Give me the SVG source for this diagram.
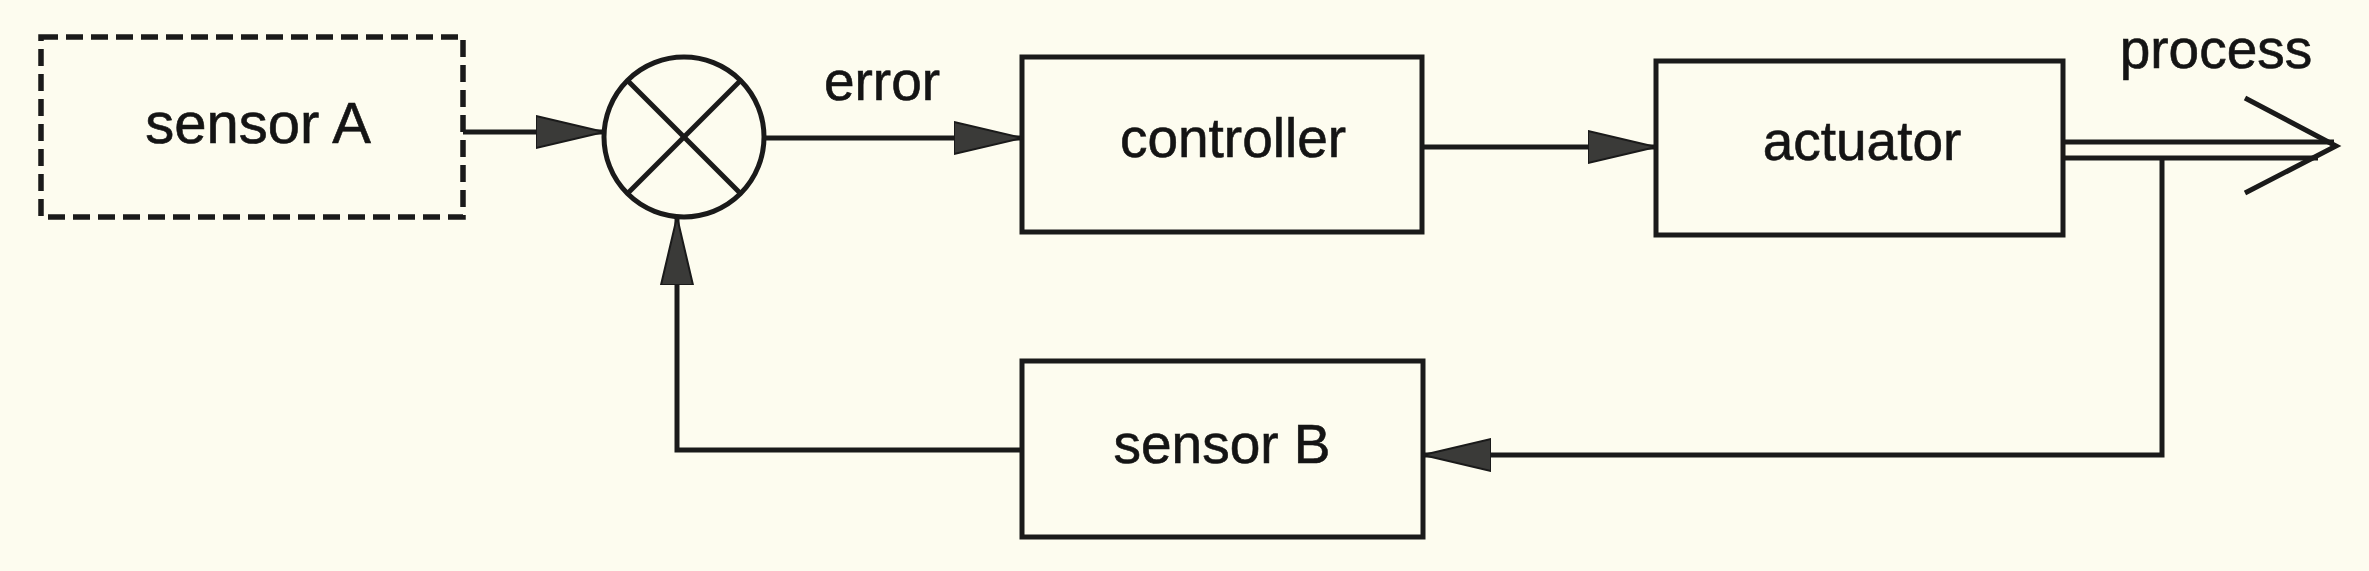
<svg xmlns="http://www.w3.org/2000/svg" width="2369" height="571" viewBox="0 0 2369 571">
<defs>
<marker id="ah" markerUnits="userSpaceOnUse" markerWidth="70" markerHeight="34" refX="68" refY="17" orient="auto">
<path d="M0,1 L68,17 L0,33 Z" fill="#3a3a38" stroke="#1a1a1a" stroke-width="2"/>
</marker>
</defs>
<style>
.box{fill:none;stroke:#1a1a1a;stroke-width:5}
.dash{fill:none;stroke:#1a1a1a;stroke-width:5.5;stroke-dasharray:17 8}
.ln{fill:none;stroke:#1a1a1a;stroke-width:5}
.lbl{font-family:"Liberation Sans",Arial,sans-serif;font-size:55px;fill:#141414;stroke:#141414;stroke-width:0.6}
</style>
<rect width="2369" height="571" fill="#fdfcef"/>
<g id="sensorA">
<rect class="dash" x="41" y="37" width="422" height="180"/>
<text class="lbl" x="258" y="143" text-anchor="middle" style="font-size:58px">sensor A</text>
</g>
<g id="comparator">
<circle class="box" cx="684" cy="137" r="80"/>
<line class="box" x1="627" y1="80" x2="741" y2="194"/>
<line class="box" x1="741" y1="80" x2="627" y2="194"/>
</g>
<g id="controller">
<rect class="box" x="1022" y="57" width="400" height="175"/>
<text class="lbl" x="1233" y="157" text-anchor="middle">controller</text>
</g>
<g id="actuator">
<rect class="box" x="1656" y="61" width="407" height="174"/>
<text class="lbl" x="1862" y="160" text-anchor="middle">actuator</text>
</g>
<g id="sensorB">
<rect class="box" x="1022" y="361" width="401" height="176"/>
<text class="lbl" x="1222" y="463" text-anchor="middle">sensor B</text>
</g>
<g id="connectors">
<line class="ln" x1="463" y1="132" x2="604" y2="132" marker-end="url(#ah)"/>
<line class="ln" x1="764" y1="138" x2="1022" y2="138" marker-end="url(#ah)"/>
<text class="lbl" x="882" y="100" text-anchor="middle">error</text>
<line class="ln" x1="1422" y1="147" x2="1656" y2="147" marker-end="url(#ah)"/>
<line class="ln" x1="2063" y1="142" x2="2334" y2="142"/>
<line class="ln" x1="2063" y1="158" x2="2318" y2="158"/>
<polyline class="ln" points="2245,98 2336,146 2245,193"/>
<text class="lbl" x="2216" y="68" text-anchor="middle">process</text>
<polyline class="ln" points="2162,158 2162,455 1423,455" marker-end="url(#ah)"/>
<polyline class="ln" points="1022,450 677,450 677,217" marker-end="url(#ah)"/>
</g>
</svg>
